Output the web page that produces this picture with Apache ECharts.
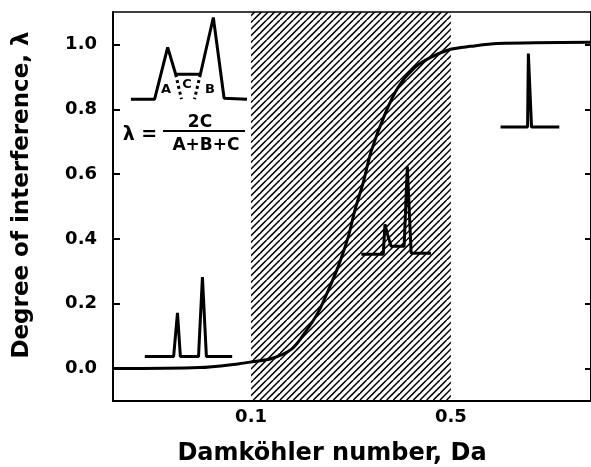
<!DOCTYPE html>
<html>
<head>
<meta charset="utf-8">
<script src="https://cdn.jsdelivr.net/npm/echarts@6/dist/echarts.min.js"></script>
<style>
html,body{margin:0;padding:0;background:#fff}
#chart{width:591px;height:467px}
</style>
</head>
<body>
<div id="chart"></div>
<script>
// degree of interference vs Damkohler number (x is log scale)
var curveDa = [0.033, 0.066, 0.091, 0.101, 0.118, 0.139, 0.155, 0.172, 0.187, 0.202, 0.219, 0.231, 0.247, 0.263, 0.294, 0.327, 0.374, 0.425, 0.499, 0.585, 0.725, 1.55];
var curveLambda = [0.0, 0.003, 0.015, 0.021, 0.031, 0.061, 0.113, 0.175, 0.245, 0.316, 0.408, 0.49, 0.575, 0.67, 0.785, 0.868, 0.929, 0.96, 0.985, 0.994, 1.003, 1.007];

var yTicks = [0, 0.2, 0.4, 0.6, 0.8, 1.0];
var xTicks = [0.1, 0.5];
var hatchFrom = 0.1, hatchTo = 0.5;
var xMin = 0.0329, xMax = 1.545;
var yMin = -0.1, yMax = 1.1;

// little chromatograms drawn in the plot, [Da, lambda]
var peaksDef = [[0.0380, 0.831], [0.0460, 0.831], [0.0511, 0.991], [0.0545, 0.908], [0.0665, 0.908], [0.0738, 1.083], [0.0805, 0.834], [0.0968, 0.831]];
var cutLeft = [[0.0545, 0.908], [0.0571, 0.831]];
var cutRight = [[0.0665, 0.908], [0.0634, 0.831]];
var peaksLow = [[0.0425, 0.037], [0.0536, 0.037], [0.0553, 0.172], [0.0566, 0.037], [0.0655, 0.037], [0.0676, 0.282], [0.0698, 0.037], [0.0859, 0.037]];
var peaksMid = [[0.243, 0.353], [0.290, 0.353], [0.294, 0.445], [0.302, 0.405], [0.309, 0.377], [0.343, 0.377], [0.352, 0.623], [0.363, 0.356], [0.426, 0.356]];
var peaksHigh = [[0.746, 0.745], [0.927, 0.745], [0.933, 0.972], [0.957, 0.745], [1.197, 0.745]];

function toLog(pts) {
    return pts.map(function (p) { return [Math.log10(p[0]), p[1]]; });
}

// hatch pattern "/"
var hatch = document.createElement('canvas');
hatch.width = 20; hatch.height = 20;
var ctx = hatch.getContext('2d');
ctx.strokeStyle = '#000';
ctx.lineWidth = 1.5;
for (var k = -1; k <= 7; k++) {
    var c = k * 20 / 3;
    ctx.beginPath();
    ctx.moveTo(c, 0);
    ctx.lineTo(c - 20, 20);
    ctx.stroke();
}

var fam = 'DejaVu Sans';
var black = '#000';

function inset(pts, dotted) {
    return {
        type: 'line',
        data: toLog(pts),
        symbol: 'none',
        silent: true,
        z: 5,
        lineStyle: {color: black, width: 3, type: dotted ? 'dotted' : 'solid'}
    };
}

var myChart = echarts.init(document.getElementById('chart'));

var option = {
    animation: false,
    backgroundColor: '#fff',
    grid: {left: 113, right: -3, top: 12, bottom: 66},
    xAxis: [{
        type: 'value',
        position: 'bottom',
        min: Math.log10(xMin),
        max: Math.log10(xMax),
        axisLine: {onZero: false, lineStyle: {color: black, width: 2}},
        axisTick: {show: false},
        splitLine: {show: false},
        axisLabel: {
            customValues: xTicks.map(function (v) { return Math.log10(v); }),
            formatter: function (v) { return Math.pow(10, v).toFixed(1); },
            margin: 7,
            color: black,
            fontSize: 18,
            fontWeight: 'bold',
            fontFamily: fam
        }
    }, {
        type: 'value',
        position: 'top',
        min: Math.log10(xMin),
        max: Math.log10(xMax),
        axisLine: {onZero: false, lineStyle: {color: black, width: 1.5}},
        axisTick: {show: false},
        axisLabel: {show: false},
        splitLine: {show: false}
    }],
    yAxis: [{
        type: 'value',
        position: 'left',
        min: yMin,
        max: yMax,
        axisLine: {show: true, onZero: false, lineStyle: {color: black, width: 2}},
        axisTick: {show: true, inside: true, length: 7, customValues: yTicks, lineStyle: {color: black, width: 2}},
        splitLine: {show: false},
        axisLabel: {
            customValues: yTicks,
            formatter: function (v) { return v.toFixed(1); },
            margin: 16,
            color: black,
            fontSize: 18,
            fontWeight: 'bold',
            fontFamily: fam
        }
    }, {
        type: 'value',
        position: 'right',
        min: yMin,
        max: yMax,
        axisLine: {show: true, onZero: false, lineStyle: {color: black, width: 2}},
        axisTick: {show: true, inside: true, length: 6, customValues: yTicks, lineStyle: {color: black, width: 2}},
        axisLabel: {show: false},
        splitLine: {show: false}
    }],
    series: [{
        type: 'line',
        data: curveDa.map(function (d, i) { return [Math.log10(d), curveLambda[i]]; }),
        smooth: 0.3,
        symbol: 'none',
        z: 4,
        lineStyle: {color: black, width: 3},
        markArea: {
            silent: true,
            itemStyle: {color: {image: hatch, repeat: 'repeat'}},
            data: [[{xAxis: Math.log10(hatchFrom)}, {xAxis: Math.log10(hatchTo)}]]
        }
    },
        inset(peaksDef),
        inset(cutLeft, true),
        inset(cutRight, true),
        inset(peaksLow),
        inset(peaksMid),
        inset(peaksHigh)
    ],
    graphic: [
        {type: 'text', x: 332, y: 454, style: {text: 'Damköhler number, Da', font: 'bold 24px "DejaVu Sans"', fill: black, textAlign: 'center', textVerticalAlign: 'middle'}},
        {type: 'text', x: 22, y: 195, rotation: Math.PI / 2, style: {text: 'Degree of interference, λ', font: 'bold 23px "DejaVu Sans"', fill: black, textAlign: 'center', textVerticalAlign: 'middle'}},
        {type: 'text', x: 166, y: 90, style: {text: 'A', font: 'bold 13px "DejaVu Sans"', fill: black, textAlign: 'center', textVerticalAlign: 'middle'}},
        {type: 'text', x: 187, y: 85, style: {text: 'C', font: 'bold 13px "DejaVu Sans"', fill: black, textAlign: 'center', textVerticalAlign: 'middle'}},
        {type: 'text', x: 210, y: 90, style: {text: 'B', font: 'bold 13px "DejaVu Sans"', fill: black, textAlign: 'center', textVerticalAlign: 'middle'}},
        {type: 'text', x: 140, y: 135, style: {text: 'λ =', font: 'bold 19px "DejaVu Sans"', fill: black, textAlign: 'center', textVerticalAlign: 'middle'}},
        {type: 'text', x: 200, y: 123, style: {text: '2C', font: 'bold 17px "DejaVu Sans"', fill: black, textAlign: 'center', textVerticalAlign: 'middle'}},
        {type: 'line', shape: {x1: 163, y1: 131, x2: 245, y2: 131}, style: {stroke: black, lineWidth: 2}},
        {type: 'text', x: 206, y: 146, style: {text: 'A+B+C', font: 'bold 17px "DejaVu Sans"', fill: black, textAlign: 'center', textVerticalAlign: 'middle'}}
    ]
};

myChart.setOption(option);
</script>
</body>
</html>
